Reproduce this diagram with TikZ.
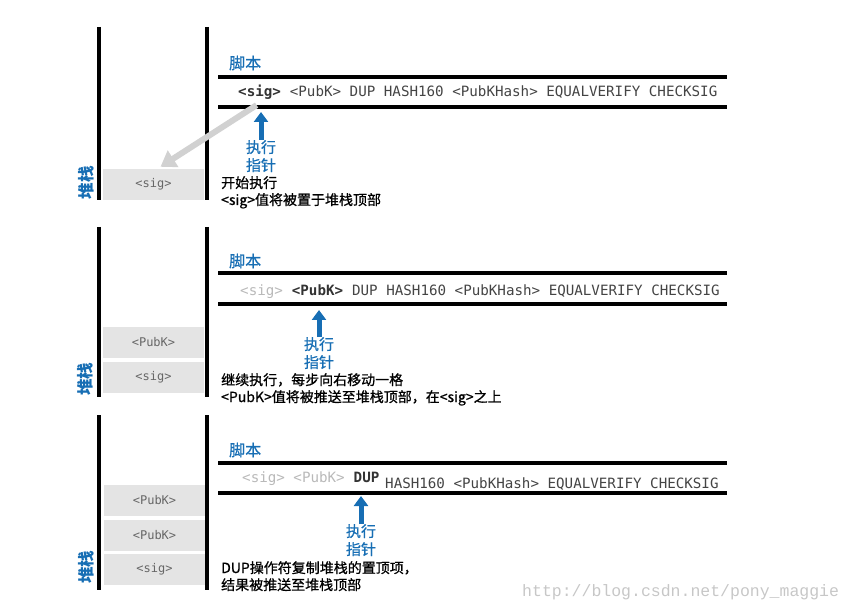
\documentclass[tikz,border=0pt]{standalone}
\usepackage{xcolor}
\usepackage{tikz}
\usepackage{fontspec}
\usetikzlibrary{arrows.meta, positioning, calc}
\setmainfont{Noto Sans CJK SC}
\setmonofont{DejaVu Sans Mono}
\newfontfamily\notefont[FakeBold=0.8]{Noto Sans CJK SC}
\newfontfamily\urlfont{Liberation Mono}
\definecolor{scriptblue}{RGB}{23, 110, 180}
\definecolor{stackgray}{RGB}{228, 228, 228}
\definecolor{tokengray}{RGB}{185, 185, 185}
\definecolor{tokendark}{RGB}{68, 68, 68}

\tikzset{
    stackwall/.style={line width=4pt},
    rail/.style={line width=4pt},
    stackcell/.style={fill=stackgray, minimum width=101pt, minimum height=31pt, inner sep=0pt,
                      text=black!60, font=\ttfamily\fontsize{12}{13}\selectfont},
    code/.style={anchor=base west, inner sep=0pt, text=tokendark, font=\ttfamily\fontsize{14.2}{16}\selectfont},
    title/.style={anchor=west, inner sep=0pt, text=scriptblue, font=\notefont\fontsize{16}{18}\selectfont},
    stacklabel/.style={rotate=90, inner sep=0pt, text=scriptblue, font=\bfseries\fontsize{16.5}{18}\selectfont},
    pointer/.style={anchor=north, inner sep=0pt, align=center, text=scriptblue, font=\notefont\fontsize{15}{18}\selectfont},
    note/.style={anchor=north west, inner sep=0pt, align=left, font=\notefont\fontsize{14}{17}\selectfont},
    ptrarrow/.style={draw=scriptblue, line width=5pt, -{Triangle[width=14pt,length=10pt]}},
    pusharrow/.style={draw=black!18, line width=6pt, -{Triangle[width=19pt,length=15pt]}}
}

\begin{document}
\begin{tikzpicture}[x=1pt, y=-1pt]
    \useasboundingbox (0,0) rectangle (854,612);

    % step 1: start, <sig> is pushed
    \draw[stackwall] (99,27) -- (99,200);
    \draw[stackwall] (207,27) -- (207,200);
    \node[stackcell] (boxA) at (153.5,184.5) {<sig>};
    \node[stacklabel] (stackA) at (86,183) {堆栈};
    \node[title] (titleA) at (229,63) {脚本};
    \draw[rail] (218,77) -- (727,77);
    \draw[rail] (218,107) -- (727,107);
    \node[code, text=black!80, font=\ttfamily\bfseries\fontsize{14.2}{16}\selectfont] (sigA) at (238,97) {<sig>};
    \node[code] (restA) at (sigA.base east) {\ <PubK> DUP HASH160 <PubKHash> EQUALVERIFY CHECKSIG};
    \node[pointer] (ptrA) at (261,140) {执行\\指针};
    \coordinate (tipA) at (261,112);
    \draw[ptrarrow] (ptrA.north) -- (tipA);
    \node[note] (noteA) at (221,176) {开始执行\\<sig>值将被置于堆栈顶部};
    \draw[pusharrow] ([xshift=-3pt,yshift=-5pt]sigA.south) -- ([xshift=7pt,yshift=2pt]boxA.north);

    % step 2: <PubK> is pushed
    \draw[stackwall] (99,227) -- (99,397);
    \draw[stackwall] (207,227) -- (207,397);
    \node[stackcell] (boxB1) at (153.5,342.5) {<PubK>};
    \node[stackcell] (boxB2) at (153.5,377.5) {<sig>};
    \node[stacklabel] (stackB) at (85,379) {堆栈};
    \node[title] (titleB) at (229,261) {脚本};
    \draw[rail] (218,273) -- (727,273);
    \draw[rail] (218,304) -- (727,304);
    \node[code, text=tokengray] (sigB) at (240,296) {<sig>};
    \node[code, text=black!80, font=\ttfamily\bfseries\fontsize{14.2}{16}\selectfont] (pubB) at (sigB.base east) {\ <PubK>};
    \node[code] (restB) at (pubB.base east) {\ DUP HASH160 <PubKHash> EQUALVERIFY CHECKSIG};
    \node[pointer] (ptrB) at (319,337) {执行\\指针};
    \coordinate (tipB) at (319,310);
    \draw[ptrarrow] (ptrB.north) -- (tipB);
    \node[note] (noteB) at (221,373) {继续执行，每步向右移动一格\\<PubK>值将被推送至堆栈顶部，在<sig>之上};

    % step 3: DUP copies the top item
    \draw[stackwall] (99,415) -- (99,590);
    \draw[stackwall] (207,415) -- (207,590);
    \node[stackcell] (boxC1) at (154.5,500) {<PubK>};
    \node[stackcell] (boxC2) at (154.5,535) {<PubK>};
    \node[stackcell] (boxC3) at (154.5,569.5) {<sig>};
    \node[stacklabel] (stackC) at (86,567) {堆栈};
    \node[title] (titleC) at (229,450) {脚本};
    \draw[rail] (218,463) -- (727,463);
    \draw[rail] (218,493) -- (727,493);
    \node[code, text=tokengray] (sigC) at (242,482) {<sig> <PubK>};
    \node[code, text=black!80, font=\ttfamily\bfseries\fontsize{14.2}{16}\selectfont] (dupC) at (sigC.base east) {\ DUP};
    \node[code] (restC) at (385,488) {HASH160 <PubKHash> EQUALVERIFY CHECKSIG};
    \node[pointer] (ptrC) at (361,524) {执行\\指针};
    \coordinate (tipC) at (361,496);
    \draw[ptrarrow] (ptrC.north) -- (tipC);
    \node[note] (noteC) at (221,561) {DUP操作符复制堆栈的置顶项，\\结果被推送至堆栈顶部};

    \node[anchor=west, inner sep=0pt, text=black!22, font=\urlfont\fontsize{16.5}{18}\selectfont] (url) at (522,592) {http://blog.csdn.net/pony\_maggie};
\end{tikzpicture}
\end{document}
